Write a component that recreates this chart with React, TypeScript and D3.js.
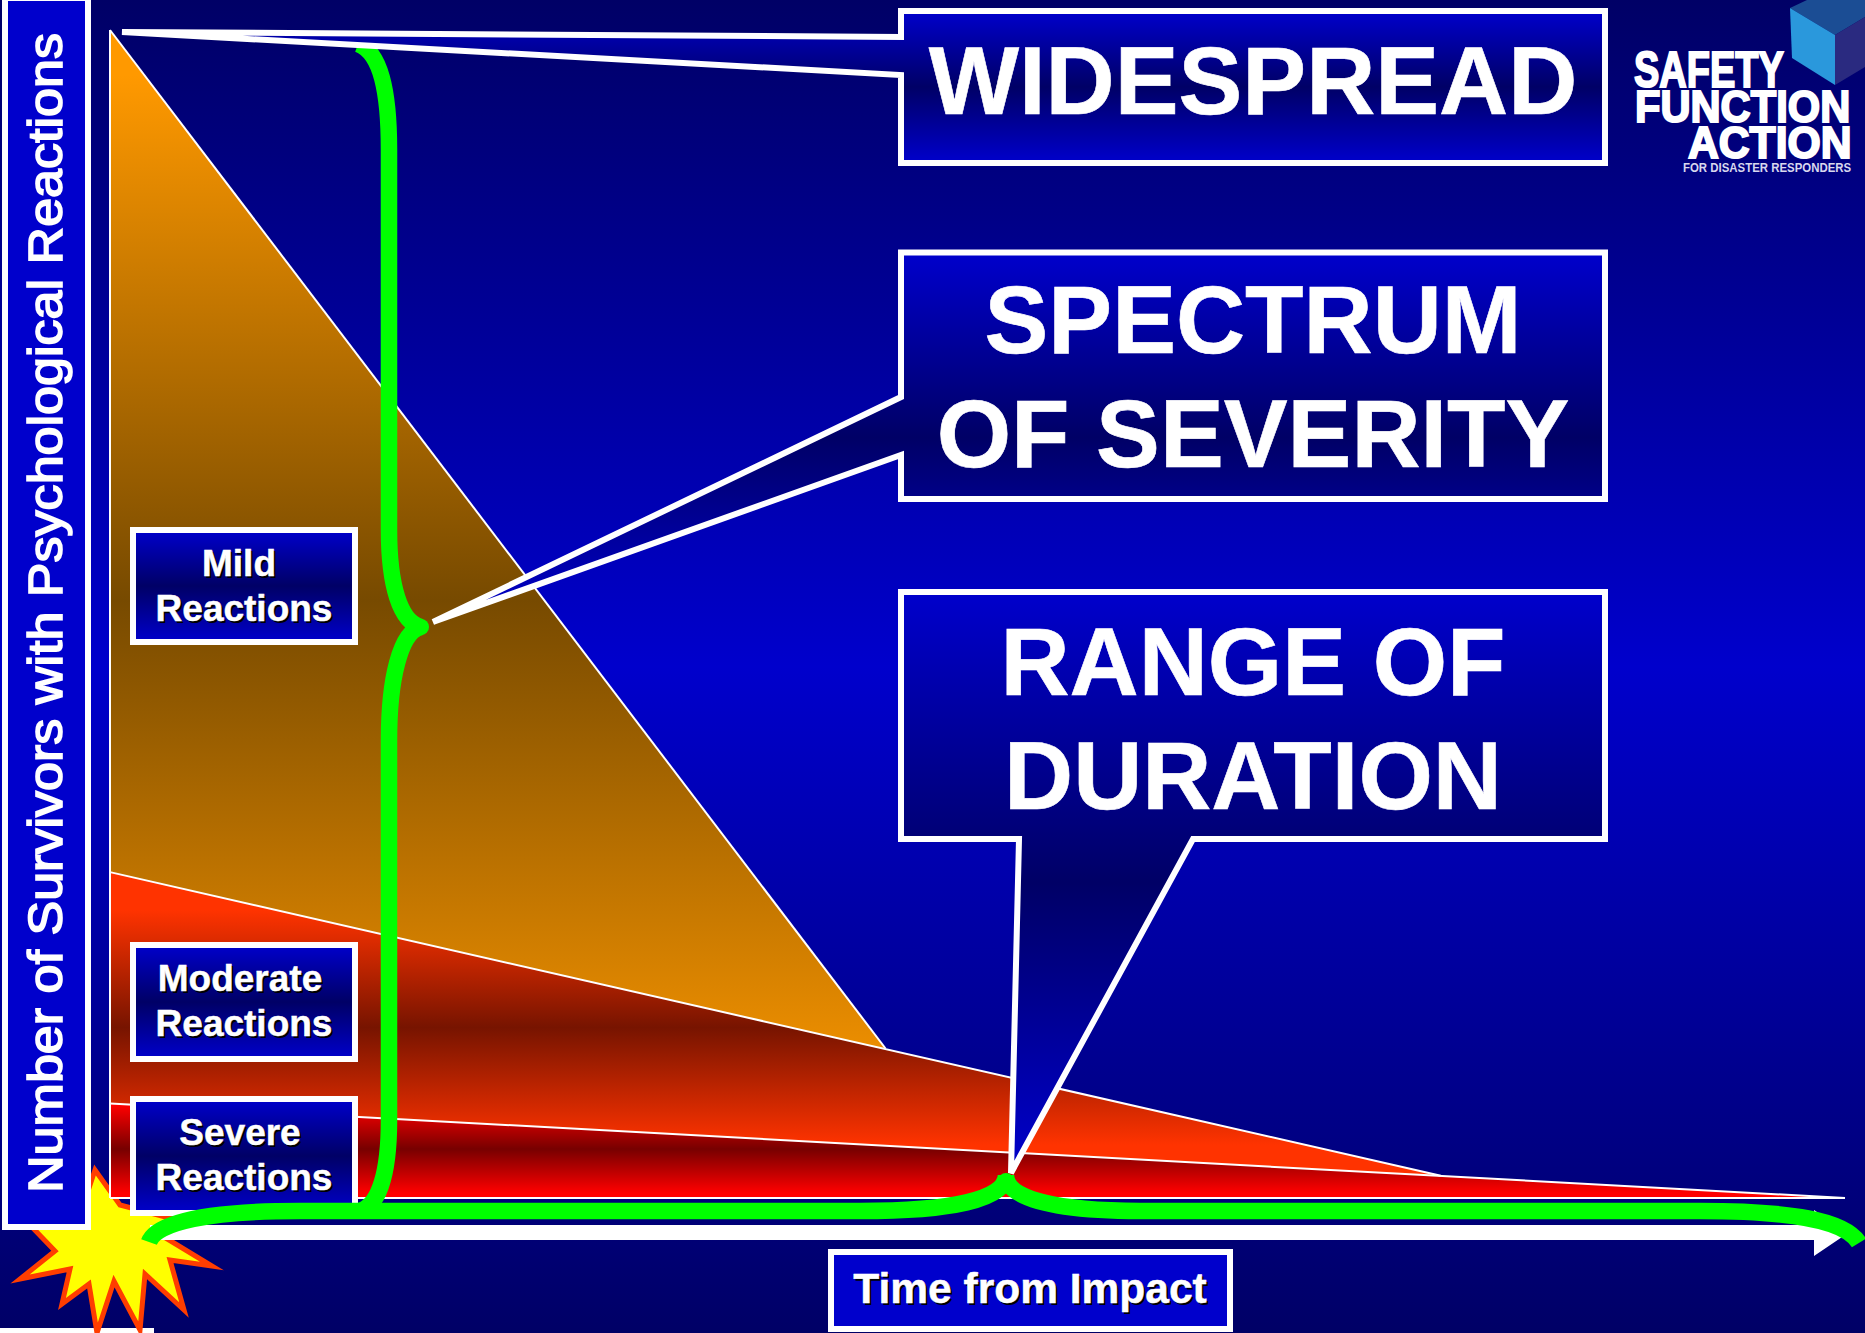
import React from "react";
import * as d3 from "d3";

const W = 1865, H = 1333;

// Data: time since impact (0-100) vs number of survivors (0-100)
const mildTimes = [0, 44.7];
const mildValues = [100, 12.8];
const moderateTimes = [0, 76.7];
const moderateValues = [27.9, 1.9];
const severeTimes = [0, 100];
const severeValues = [8.1, 0];

const yAxisTitle = "Number of Survivors with Psychological Reactions";
const xAxisTitle = "Time from Impact";
const mildLabel = ["Mild", "Reactions"];
const moderateLabel = ["Moderate", "Reactions"];
const severeLabel = ["Severe", "Reactions"];
const spectrumLines = ["SPECTRUM", "OF SEVERITY"];
const rangeLines = ["RANGE OF", "DURATION"];

const x = d3.scaleLinear().domain([0, 100]).range([110, 1845]);
const y = d3.scaleLinear().domain([0, 100]).range([1198, 30]);

function toRows(ts: number[], vs: number[]) {
  return ts.map((t, i) => ({ t, v: vs[i] }));
}
const area = d3.area<{ t: number; v: number }>().x(d => x(d.t)).y0(y(0)).y1(d => y(d.v));
const line = d3.line<{ t: number; v: number }>().x(d => x(d.t)).y(d => y(d.v));

const Font = "'Liberation Sans', Arial, sans-serif";

function poly(p: number[][]) {
  return d3.line()(p as any) + "Z";
}

function Stops({ id, a, b, stops }: any) {
  return (
    <linearGradient id={id} gradientUnits="userSpaceOnUse" x1="0" x2="0" y1={a} y2={b}>
      {stops.map((s: any, i: number) => <stop key={i} offset={s[0]} stopColor={s[1]} />)}
    </linearGradient>
  );
}

function LabelBox({ top, lines, cx0, h }: any) {
  return (
    <g>
      <rect x={133} y={top + 3} width={222} height={h} fill="url(#box)" stroke="#fff" strokeWidth={6} />
      {lines.map((t: string, i: number) => (
        <g key={i} fontFamily={Font} fontWeight="bold" fontSize={37} textAnchor="middle">
          <text x={(i === 0 ? cx0 : 244) + 2} y={top + 49 + i * 45 + 2} fill="#000">{t}</text>
          <text x={i === 0 ? cx0 : 244} y={top + 49 + i * 45} fill="#fff" stroke="#fff" strokeWidth={0.5}>{t}</text>
        </g>
      ))}
    </g>
  );
}

export default function App() {
  const mild = toRows(mildTimes, mildValues);
  const moderate = toRows(moderateTimes, moderateValues);
  const severe = toRows(severeTimes, severeValues);

  const burst = [[95,1170],[120,1205],[200,1226],[169,1240],[212,1266],[170,1260],[184,1310],[145,1274],[140,1330],[114,1281],[97,1333],[89,1284],[62,1304],[70,1269],[20,1279],[55,1251],[30,1225],[80,1215]];

  const vBrace = "M358,44 C380,52 389,90 389,150 L389,530 C389,585 400,622 421,627 C400,632 389,680 389,740 L389,1120 C389,1170 380,1205 360,1211";
  const hBrace = "M149,1242 C156,1222 210,1211 300,1211 L860,1211 C950,1211 1006,1200 1006,1175 C1006,1200 1060,1211 1140,1211 L1700,1211 C1790,1211 1845,1220 1859,1243";

  const widespread = "M901,11 L1605,11 L1605,163 L901,163 L901,75 L122,32 L901,37 Z";
  const spectrum = "M901,252.5 L1605,252.5 L1605,499 L901,499 L901,455 L433,622 L901,397 Z";
  const range = "M901,592 L1605,592 L1605,839 L1193,839 L1011,1173 L1019,839 L901,839 Z";

  return (
    <svg width={W} height={H} viewBox={`0 0 ${W} ${H}`} style={{ position: "absolute", left: 0, top: 0, display: "block" }}>
      <defs>
        <Stops id="bg" a={0} b={H} stops={[[0, "#000066"], [0.5, "#0000cc"], [1, "#000066"]]} />
        <linearGradient id="box" x1="0" x2="0" y1="0" y2="1">
          <stop offset="0" stopColor="#0000cc" />
          <stop offset="0.5" stopColor="#000066" />
          <stop offset="1" stopColor="#0000cc" />
        </linearGradient>
        <Stops id="mildG" a={75} b={1125} stops={[[0, "#ff9900"], [0.5, "#774a00"], [1, "#ff9900"]]} />
        <Stops id="modG" a={910} b={1145} stops={[[0, "#ff3300"], [0.5, "#771400"], [1, "#ff3300"]]} />
        <Stops id="sevG" a={1105} b={1193} stops={[[0, "#ff0000"], [0.5, "#770000"], [1, "#ff0000"]]} />
      </defs>

      <rect width={W} height={H} fill="url(#bg)" />
      <rect x={0} y={1328} width={154} height={5} fill="#fff" />

      {/* logo */}
      <g>
        <path d={poly([[1790,8],[1807,0],[1865,0],[1865,17],[1835,35]])} fill="#1b4d94" />
        <path d={poly([[1790,8],[1835,35],[1835,85],[1792,58]])} fill="#2a98dc" />
        <path d={poly([[1835,35],[1865,17],[1865,67],[1835,85]])} fill="#2a2a80" />
        <g fontFamily={Font} fontWeight="bold" fill="#fff" stroke="#fff" strokeWidth={2}>
          <text transform="translate(1634,87) scale(0.76,1)" fontSize={50}>SAFETY</text>
          <text transform="translate(1635,122) scale(0.926,1)" fontSize={45}>FUNCTION</text>
          <text transform="translate(1688,158) scale(0.97,1)" fontSize={44}>ACTION</text>
        </g>
        <text transform="translate(1683,172) scale(0.846,1)" fontFamily={Font} fontSize={13.5} fontWeight="bold" fill="#d8d8ee">FOR DISASTER RESPONDERS</text>
      </g>

      {/* impact burst */}
      <path d={poly(burst)} fill="#ffff00" stroke="#ff3d00" strokeWidth={5} strokeMiterlimit={10} />

      {/* areas */}
      <path d={area(mild)!} fill="url(#mildG)" />
      <path d={area(moderate)!} fill="url(#modG)" />
      <path d={area(severe)!} fill="url(#sevG)" />
      <g fill="none" stroke="#fff" strokeWidth={2}>
        <path d={line(mild)!} />
        <path d={line(moderate)!} />
        <path d={line(severe)!} />
        <line x1={x(0)} x2={x(0)} y1={y(100)} y2={y(0)} />
        <line x1={x(0)} x2={x(100)} y1={y(0)} y2={y(0)} />
      </g>

      {/* time arrow */}
      <path d={poly([[150,1225],[1814,1225],[1814,1210],[1848,1233],[1814,1256],[1814,1240],[150,1240]])} fill="#fff" />

      {/* y axis title */}
      <rect x={5} y={-2} width={83} height={1229} fill="#0000cc" stroke="#fff" strokeWidth={6} />
      <text transform="translate(62,1193) rotate(-90)" fontFamily={Font} fontSize={48} fill="#fff" stroke="#fff" strokeWidth={1.6} textLength={1160} lengthAdjust="spacingAndGlyphs">{yAxisTitle}</text>

      {/* reaction labels */}
      <LabelBox top={527} h={112} lines={mildLabel} cx0={239} />
      <LabelBox top={942} h={114} lines={moderateLabel} cx0={240} />
      <LabelBox top={1096} h={114} lines={severeLabel} cx0={240} />

      {/* vertical brace */}
      <path d={vBrace} fill="none" stroke="#00ff00" strokeWidth={16.5} />
      <circle cx={421} cy={627} r={8} fill="#00ff00" />

      {/* callouts */}
      {[widespread, spectrum, range].map((d, i) => (
        <path key={i} d={d} fill="url(#box)" stroke="#fff" strokeWidth={6} strokeLinejoin="miter" strokeMiterlimit={3} />
      ))}
      <g fontFamily={Font} fontWeight="bold" fontSize={95.7} fill="#fff" textAnchor="middle" stroke="#fff" strokeWidth={0.6}>
        <text x={1253} y={114}>WIDESPREAD</text>
        {spectrumLines.map((t, i) => <text key={t} x={1253} y={353 + i * 114}>{t}</text>)}
        {rangeLines.map((t, i) => <text key={t} x={1253} y={695 + i * 114}>{t}</text>)}
      </g>

      {/* horizontal brace */}
      <path d={hBrace} fill="none" stroke="#00ff00" strokeWidth={16.5} />
      <circle cx={1006} cy={1181} r={8} fill="#00ff00" />

      {/* x axis title */}
      <rect x={831} y={1252} width={399} height={77} fill="#0000cc" stroke="#fff" strokeWidth={6} />
      <g fontFamily={Font} fontWeight="bold" fontSize={42.5} textAnchor="middle">
        <text x={1032} y={1305} fill="#000">{xAxisTitle}</text>
        <text x={1030} y={1303} fill="#fff" stroke="#fff" strokeWidth={0.5}>{xAxisTitle}</text>
      </g>
    </svg>
  );
}
